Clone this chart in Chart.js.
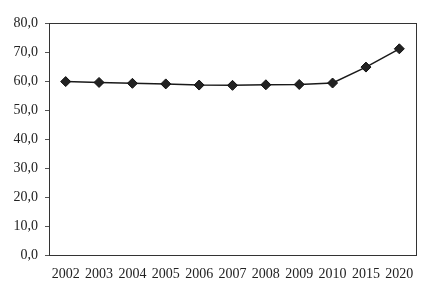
<!DOCTYPE html>
<html>
<head>
<meta charset="utf-8">
<script src="https://cdn.jsdelivr.net/npm/chart.js@4"></script>
<style>
  html, body { margin: 0; padding: 0; background: #fff; }
  #wrap { width: 437px; height: 285px; }
</style>
</head>
<body>
<div id="wrap"><canvas id="chart" width="437" height="285"></canvas></div>
<script>
// values
const years = ["2002", "2003", "2004", "2005", "2006", "2007", "2008", "2009", "2010", "2015", "2020"];
const shares = [59.8, 59.5, 59.2, 59.0, 58.6, 58.5, 58.7, 58.8, 59.3, 64.8, 71.1];

const Y_MIN = 0;
const Y_MAX = 80;
const Y_STEP = 10;

const fmtComma = (v) => Number(v).toFixed(1).replace(".", ",");

// plain box around the plot area, like the original figure
const frame = {
  id: "frame",
  afterDraw(chart) {
    const { ctx, chartArea: a } = chart;
    ctx.save();
    ctx.strokeStyle = "#333";
    ctx.lineWidth = 1;
    ctx.strokeRect(Math.round(a.left) + 0.5, Math.round(a.top) + 0.5,
      Math.round(a.right - a.left), Math.round(a.bottom - a.top));
    ctx.restore();
  },
};

new Chart(document.getElementById("chart"), {
  type: "line",
  data: {
    labels: years,
    datasets: [{
      data: shares,
      borderColor: "#1a1a1a",
      borderWidth: 1.5,
      pointStyle: "rectRot",
      pointRadius: 5,
      pointBackgroundColor: "#222",
      pointBorderColor: "#111",
      pointBorderWidth: 1,
      tension: 0,
      fill: false,
    }],
  },
  options: {
    responsive: false,
    animation: false,
    layout: { padding: { top: 23, right: 21, left: 0, bottom: 0 } },
    plugins: { legend: { display: false }, tooltip: { enabled: false } },
    scales: {
      x: {
        offset: true,
        grid: { display: false },
        border: { display: false },
        ticks: { color: "#222", font: { family: "Liberation Serif", size: 14 }, maxRotation: 0, padding: 3 },
        afterFit(axis) { axis.height = 30; },
      },
      y: {
        min: Y_MIN,
        max: Y_MAX,
        grid: { drawOnChartArea: false, tickLength: 4, color: "#555" },
        border: { display: false },
        ticks: {
          stepSize: Y_STEP,
          color: "#222",
          font: { family: "Liberation Serif", size: 14 },
          padding: 7,
          callback: (v) => fmtComma(v),
        },
        afterFit(axis) { axis.width = 49; },
      },
    },
  },
  plugins: [frame],
});
</script>
</body>
</html>
